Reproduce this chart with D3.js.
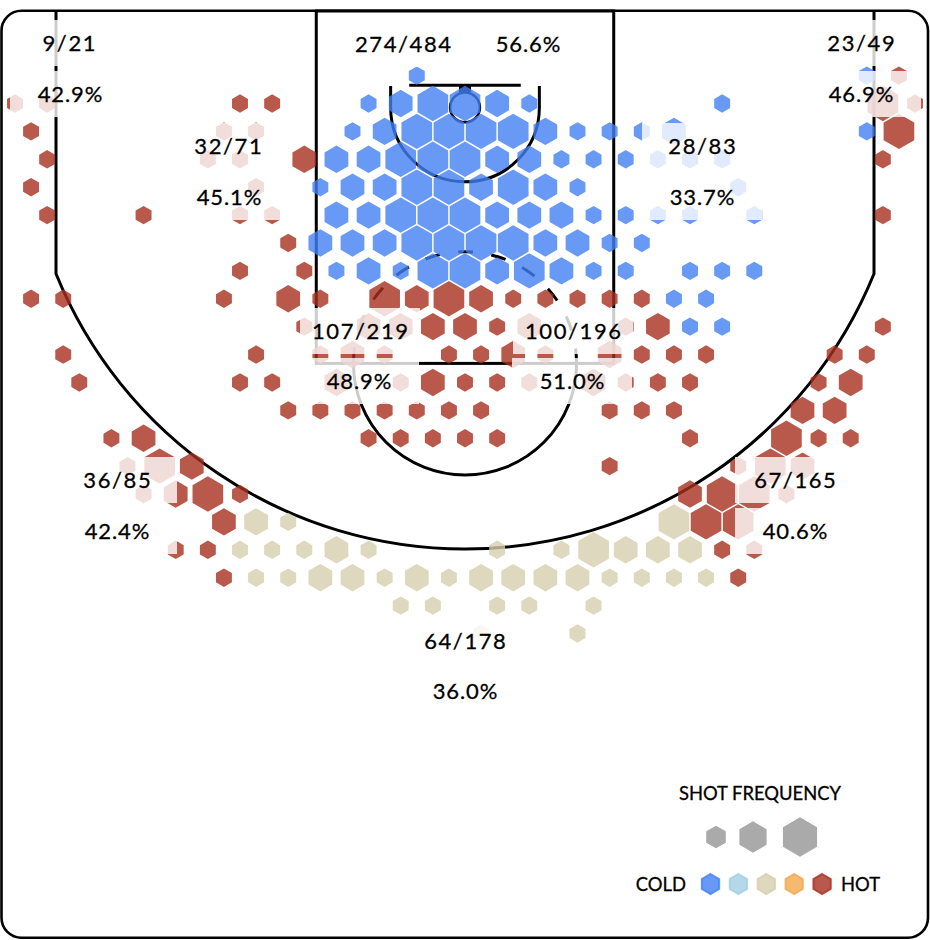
<!DOCTYPE html>
<html>
<head>
<meta charset="utf-8">
<script src="https://cdn.jsdelivr.net/npm/d3@7"></script>
<style>
html,body{margin:0;padding:0;background:#fff}
svg{display:block}
text{font-family:"Lato","Open Sans",sans-serif;fill:#000;stroke:#000;stroke-width:0.3px}
</style>
</head>
<body>
<svg id="chart" width="930" height="940"></svg>
<script>
// Hexagonal bins: [row, half-column from centre, frequency tier]
const coldBins = [
[-1,-3,1],[-1,25,1],
[0,-6,1],[0,-4,2],[0,-2,3],[0,0,3],[0,2,2],[0,4,1],[0,16,1],
[1,-7,1],[1,-5,2],[1,-3,3],[1,-1,3],[1,1,3],[1,3,3],[1,5,2],[1,7,1],[1,9,1],[1,11,1],[1,13,2],[1,25,1],
[2,-8,2],[2,-6,2],[2,-4,3],[2,-2,3],[2,0,3],[2,2,2],[2,4,2],[2,6,1],[2,8,1],[2,10,1],[2,12,1],[2,14,1],[2,16,1],
[3,-9,1],[3,-7,2],[3,-5,2],[3,-3,3],[3,-1,3],[3,1,2],[3,3,3],[3,5,2],[3,7,1],[3,17,1],
[4,-8,2],[4,-6,2],[4,-4,3],[4,-2,3],[4,0,3],[4,2,2],[4,4,2],[4,6,2],[4,8,1],[4,10,1],[4,12,1],[4,14,1],[4,18,1],
[5,-9,2],[5,-7,2],[5,-5,2],[5,-3,3],[5,-1,3],[5,1,3],[5,3,3],[5,5,2],[5,7,2],[5,9,1],[5,11,1],
[6,-8,1],[6,-6,2],[6,-4,1],[6,-2,3],[6,0,3],[6,2,2],[6,4,3],[6,6,2],[6,8,1],[6,10,1],[6,14,1],[6,16,1],[6,18,1],
[7,13,1],[7,15,1],
[8,14,1],[8,16,1]
];
const neutralBins = [
[15,-13,2],[15,-11,1],[15,13,3],
[16,-14,1],[16,-12,1],[16,-10,1],[16,-8,2],[16,-6,1],[16,2,1],[16,6,1],[16,8,3],[16,10,2],[16,12,2],[16,14,2],
[17,-13,1],[17,-11,1],[17,-9,2],[17,-7,2],[17,-5,1],[17,-3,2],[17,-1,1],[17,1,2],[17,3,2],[17,5,2],[17,7,2],[17,9,1],[17,11,1],[17,13,1],[17,15,1],
[18,-4,1],[18,-2,1],[18,2,1],[18,4,1],[18,8,1],
[19,1,1],[19,7,1]
];
const hotBins = [
[-1,27,1],
[0,-28,1],[0,-26,1],[0,-14,1],[0,-12,1],[0,26,3],[0,28,1],
[1,-27,1],[1,-15,1],[1,-13,1],[1,27,3],
[2,-26,1],[2,-16,1],[2,-14,1],[2,-10,2],[2,26,1],
[3,-27,1],[3,-13,1],
[4,-26,1],[4,-20,1],[4,-14,1],[4,-12,1],[4,26,1],
[5,-11,1],
[6,-14,1],[6,-10,1],
[7,-27,1],[7,-25,1],[7,-15,1],[7,-11,2],[7,-9,1],[7,-5,3],[7,-3,2],[7,-1,3],[7,1,2],[7,3,1],[7,5,1],[7,7,1],[7,9,1],[7,11,1],
[8,-10,1],[8,-6,2],[8,-4,2],[8,-2,2],[8,0,2],[8,2,1],[8,4,2],[8,10,1],[8,12,2],[8,26,1],
[9,-25,1],[9,-13,1],[9,-9,1],[9,-7,2],[9,-5,1],[9,-1,1],[9,1,1],[9,3,2],[9,5,1],[9,9,2],[9,11,1],[9,13,1],[9,15,1],[9,23,1],[9,25,1],
[10,-24,1],[10,-14,1],[10,-12,1],[10,-8,2],[10,-4,1],[10,-2,2],[10,0,1],[10,2,1],[10,4,1],[10,8,2],[10,10,1],[10,12,1],[10,14,1],[10,22,1],[10,24,2],
[11,-11,1],[11,-9,1],[11,-7,1],[11,-5,1],[11,-3,1],[11,-1,1],[11,1,1],[11,9,1],[11,11,1],[11,13,1],[11,21,2],[11,23,2],
[12,-22,1],[12,-20,2],[12,-6,1],[12,-4,1],[12,-2,1],[12,0,1],[12,2,1],[12,14,1],[12,20,3],[12,22,1],[12,24,1],
[13,-21,1],[13,-19,3],[13,-17,2],[13,9,1],[13,17,1],[13,19,3],[13,21,2],
[14,-20,1],[14,-18,2],[14,-16,3],[14,-14,1],[14,14,2],[14,16,3],[14,18,3],[14,20,1],
[15,-15,2],[15,15,3],[15,17,3],
[16,-18,1],[16,-16,1],[16,16,1],[16,18,1],
[17,-15,1],[17,17,1]
];

// Zone labels
const zoneMade = ["9/21","23/49","274/484","32/71","28/83","107/219","100/196","36/85","67/165","64/178"];
const zonePct = ["42.9%","46.9%","56.6%","45.1%","33.7%","48.9%","51.0%","42.4%","40.6%","36.0%"];
const legendTitle = "SHOT FREQUENCY";
const legendCold = "COLD";
const legendHot = "HOT";
const heatNames = ["cold","cool","neutral","warm","hot"];
const tierNames = [1,2,3];

// Layout (not data)
const fracPos = [[69,43],[861,43],[403,44],[228,146],[702,146],[360,331],[573,331],[117,480],[795,480],[465,641]];
const pctPos  = [[70,94],[861,94],[528,44],[229,197],[702,197],[359,381],[572,381],[117,531],[795,531],[465,691]];
const heatColor = d3.scaleOrdinal(heatNames, ["#427ff2","#a0cee3","#d5ceae","#f2a74f","#a8301f"]);
const tierRadius = d3.scaleOrdinal(tierNames, [9.2,13.7,17.7]);
const legendRadius = d3.scaleOrdinal(tierNames, [11.3,15.7,19.7]);
const gridX = d3.scaleLinear([-28,28],[15,915]);
const gridY = d3.scaleLinear([0,19],[103.5,633.5]);
const ftX = d3.scaleLinear([-22,22],[56,874]);
const ftY = d3.scaleLinear([0,19],[11,363.4]);

const svg = d3.select("#chart");
const hexPath = r => d3.line()(d3.range(6).map(i => {
  const a = Math.PI/3*i;
  return [r*Math.sin(a), -r*Math.cos(a)];
})) + "Z";

// Court
const court = svg.append("g").attr("fill","none").attr("stroke","#000").attr("stroke-width",3);
const px = ftX(1)-ftX(0);
const basketY = ftY(5.2);
const arc3 = d3.path();
const r3 = 23.75*px;
const a0 = Math.acos((ftX(22)-ftX(0))/r3);
const cornerY = basketY + r3*Math.sin(a0);
arc3.moveTo(ftX(-22),ftY(0));
arc3.lineTo(ftX(-22),cornerY);
arc3.arc(ftX(0),basketY,r3,Math.PI-a0,a0,true);
arc3.lineTo(ftX(22),ftY(0));
court.append("path").attr("d",arc3.toString());
court.append("rect").attr("x",ftX(-8)).attr("y",ftY(0)).attr("width",ftX(8)-ftX(-8)).attr("height",ftY(19)-ftY(0));
court.append("line").attr("x1",ftX(-3)).attr("x2",ftX(3)).attr("y1",ftY(4)).attr("y2",ftY(4));
court.append("line").attr("x1",ftX(0)).attr("x2",ftX(0)).attr("y1",ftY(4)).attr("y2",ftY(4.4)).attr("stroke-width",12);
court.append("circle").attr("cx",ftX(0)).attr("cy",basketY).attr("r",0.8*px).attr("stroke-width",2.6);
const ra = d3.path();
ra.moveTo(ftX(-4),ftY(4.05));
ra.lineTo(ftX(-4),basketY);
ra.arc(ftX(0),basketY,4*px,Math.PI,0,true);
ra.lineTo(ftX(4),ftY(4.05));
court.append("path").attr("d",ra.toString());
const ftLow = d3.path();
ftLow.arc(ftX(0),ftY(19),6*px,0,Math.PI,false);
court.append("path").attr("d",ftLow.toString());
const ftUp = d3.path();
ftUp.arc(ftX(0),ftY(19),6*px,0,Math.PI,true);
court.append("path").attr("d",ftUp.toString()).attr("stroke-dasharray","15 18.4");
svg.append("rect").attr("x",1.5).attr("y",10.8).attr("width",926.5).attr("height",927).attr("rx",20)
  .attr("fill","none").attr("stroke","#000").attr("stroke-width",2.6);

// Hexagons
const series = [["cold",coldBins],["neutral",neutralBins],["hot",hotBins]];
series.forEach(([heat,bins]) => {
  svg.append("g").attr("class","bins-"+heat).selectAll("path").data(bins).join("path")
    .attr("d",d => hexPath(tierRadius(d[2])))
    .attr("transform",d => `translate(${gridX(d[1])},${gridY(d[0])})`)
    .attr("fill",heatColor(heat)).attr("opacity",0.8);
});

// Label plates and labels
const plateW = 120, plateH = 46;
const labels = zoneMade.map((t,i)=>({t,p:fracPos[i],ls:1.6})).concat(zonePct.map((t,i)=>({t,p:pctPos[i],ls:0.9})));
svg.append("g").selectAll("rect").data(labels).join("rect")
  .attr("x",d=>d.p[0]-plateW/2).attr("y",d=>d.p[1]-plateH/2)
  .attr("width",plateW).attr("height",plateH).attr("fill","#fff").attr("opacity",0.8);
svg.append("g").selectAll("text").data(labels).join("text")
  .attr("x",d=>d.p[0]+d.ls/2).attr("y",d=>d.p[1]).attr("dy","0.36em").attr("text-anchor","middle")
  .attr("font-size",22).attr("letter-spacing",d=>d.ls).text(d=>d.t);

// Legend
const legend = svg.append("g");
legend.append("text").attr("x",760).attr("y",793).attr("dy","0.36em").attr("text-anchor","middle").attr("font-size",18.4).text(legendTitle);
legend.selectAll("path.size").data(tierNames).join("path").attr("class","size")
  .attr("d",d=>hexPath(legendRadius(d)))
  .attr("transform",(d,i)=>`translate(${[716,753,800][i]},837)`)
  .attr("fill","#aaaaaa");
legend.selectAll("path.color").data(heatNames).join("path").attr("class","color")
  .attr("d",hexPath(10))
  .attr("transform",(d,i)=>`translate(${710.5+i*27.9},884)`)
  .attr("fill",d=>heatColor(d)).attr("stroke",d=>heatColor(d)).attr("stroke-width",2)
  .attr("fill-opacity",0.8).attr("stroke-opacity",0.8);
legend.append("text").attr("x",686).attr("y",884).attr("dy","0.36em").attr("text-anchor","end").attr("font-size",18.4).text(legendCold);
legend.append("text").attr("x",841).attr("y",884).attr("dy","0.36em").attr("font-size",18.4).text(legendHot);
</script>
</body>
</html>
